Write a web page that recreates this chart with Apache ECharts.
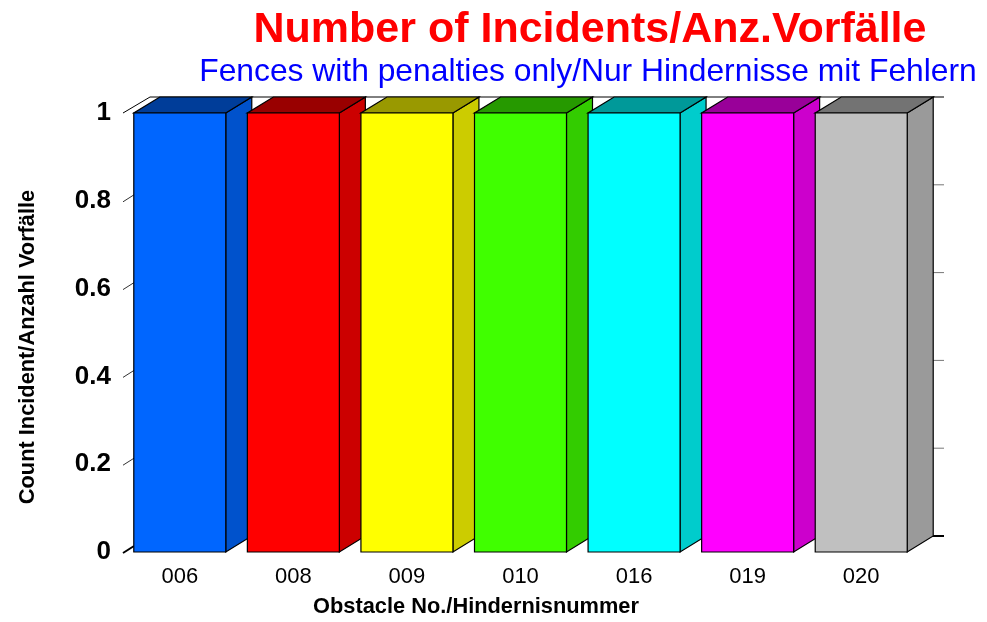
<!DOCTYPE html>
<html>
<head>
<meta charset="utf-8">
<script src="https://cdn.jsdelivr.net/npm/echarts@6/dist/echarts.min.js"></script>
<style>html,body{margin:0;padding:0;background:#fff;}#c{width:987px;height:622px;}</style>
</head>
<body>
<div id="c"></div>
<script>
const categories = ['006', '008', '009', '010', '016', '019', '020'];
const counts = [1, 1, 1, 1, 1, 1, 1];
const yTicks = [0, 0.2, 0.4, 0.6, 0.8, 1];
const frontColors = ['#0066FF', '#FF0000', '#FFFF00', '#40FF00', '#00FFFF', '#FF00FF', '#C0C0C0'];
const topColors   = ['#003D99', '#990000', '#999900', '#269900', '#009999', '#990099', '#737373'];
const sideColors  = ['#0052CC', '#CC0000', '#CCCC00', '#33CC00', '#00CCCC', '#CC00CC', '#9A9A9A'];

const FONT = 'Liberation Sans';
const DX = 26, DY = -16;

const chart = echarts.init(document.getElementById('c'), null, {renderer: 'canvas'});

const option = {
  backgroundColor: '#ffffff',
  animation: false,
  grid: {left: 123, right: 69, top: 113, bottom: 70, containLabel: false},
  xAxis: {
    type: 'category',
    data: categories,
    axisLine: {show: false},
    axisTick: {show: false},
    splitLine: {show: false},
    axisLabel: {color: '#000', fontFamily: FONT, fontSize: 22, margin: 14}
  },
  yAxis: {
    type: 'value',
    min: 0, max: 1, interval: 0.2,
    axisLine: {show: false},
    axisTick: {show: false},
    splitLine: {show: false},
    axisLabel: {color: '#000', fontFamily: FONT, fontSize: 26, fontWeight: 'bold', margin: 12}
  },
  graphic: [
    {type: 'text', x: 590, y: 30, z: 10,
     style: {text: 'Number of Incidents/Anz.Vorfälle', fill: '#FF0000', font: 'bold 43px "Liberation Sans"', textAlign: 'center', textVerticalAlign: 'middle'}},
    {type: 'text', x: 588, y: 72, z: 10,
     style: {text: 'Fences with penalties only/Nur Hindernisse mit Fehlern', fill: '#0000FF', font: '31.8px "Liberation Sans"', textAlign: 'center', textVerticalAlign: 'middle'}},
    {type: 'text', x: 28, y: 347, rotation: Math.PI / 2, z: 10,
     style: {text: 'Count Incident/Anzahl Vorfälle', fill: '#000', font: 'bold 21.8px "Liberation Sans"', textAlign: 'center', textVerticalAlign: 'middle'}},
    {type: 'text', x: 476, y: 607, z: 10,
     style: {text: 'Obstacle No./Hindernisnummer', fill: '#000', font: 'bold 21.8px "Liberation Sans"', textAlign: 'center', textVerticalAlign: 'middle'}}
  ],
  series: [
    {
      type: 'custom',
      z: 1,
      data: yTicks.map(v => [0, v]),
      renderItem: function (params, api) {
        const cs = params.coordSys;
        const v = api.value(1);
        const y = api.coord([0, v])[1];
        const left = cs.x, right = cs.x + cs.width;
        const isEnd = v === 0;
        const children = [];
        if (v === 1) {
          children.push({type: 'line', shape: {x1: left, y1: y, x2: left + 27, y2: y + DY}, style: {stroke: '#000', lineWidth: 1}});
          children.push({type: 'line', shape: {x1: left + 27, y1: y + DY, x2: right + 26, y2: y + DY}, style: {stroke: '#000', lineWidth: 1}});
        } else {
          children.push({type: 'line', shape: {x1: left, y1: y + 1, x2: left + 11, y2: y - 6}, style: {stroke: isEnd ? '#000' : '#333', lineWidth: isEnd ? 2 : 1}});
        }
        children.push({type: 'line', shape: {x1: right + 14, y1: y + DY, x2: right + 26, y2: y + DY}, style: {stroke: isEnd ? '#000' : '#777', lineWidth: isEnd ? 2 : 1}});
        return {type: 'group', children: children};
      }
    },
    {
      type: 'custom',
      z: 2,
      data: counts.map((v, i) => [i, v]),
      renderItem: function (params, api) {
        const i = api.value(0);
        const v = api.value(1);
        const top = api.coord([i, v]);
        const base = api.coord([i, 0]);
        const w = api.size([1, 0])[0] * 0.81;
        const x0 = top[0] - w / 2, x1 = top[0] + w / 2;
        const yT = top[1], yB = base[1];
        const st = {stroke: '#000', lineWidth: 1.2, lineJoin: 'miter'};
        return {
          type: 'group',
          children: [
            {type: 'polygon', shape: {points: [[x1, yT], [x1 + DX, yT + DY], [x1 + DX, yB + DY], [x1, yB]]},
             style: Object.assign({fill: sideColors[i]}, st)},
            {type: 'polygon', shape: {points: [[x0, yT], [x1, yT], [x1 + DX, yT + DY], [x0 + DX, yT + DY]]},
             style: Object.assign({fill: topColors[i]}, st)},
            {type: 'rect', shape: {x: x0, y: yT, width: w, height: yB - yT},
             style: Object.assign({fill: frontColors[i]}, st)}
          ]
        };
      }
    }
  ]
};
chart.setOption(option);
</script>
</body>
</html>
